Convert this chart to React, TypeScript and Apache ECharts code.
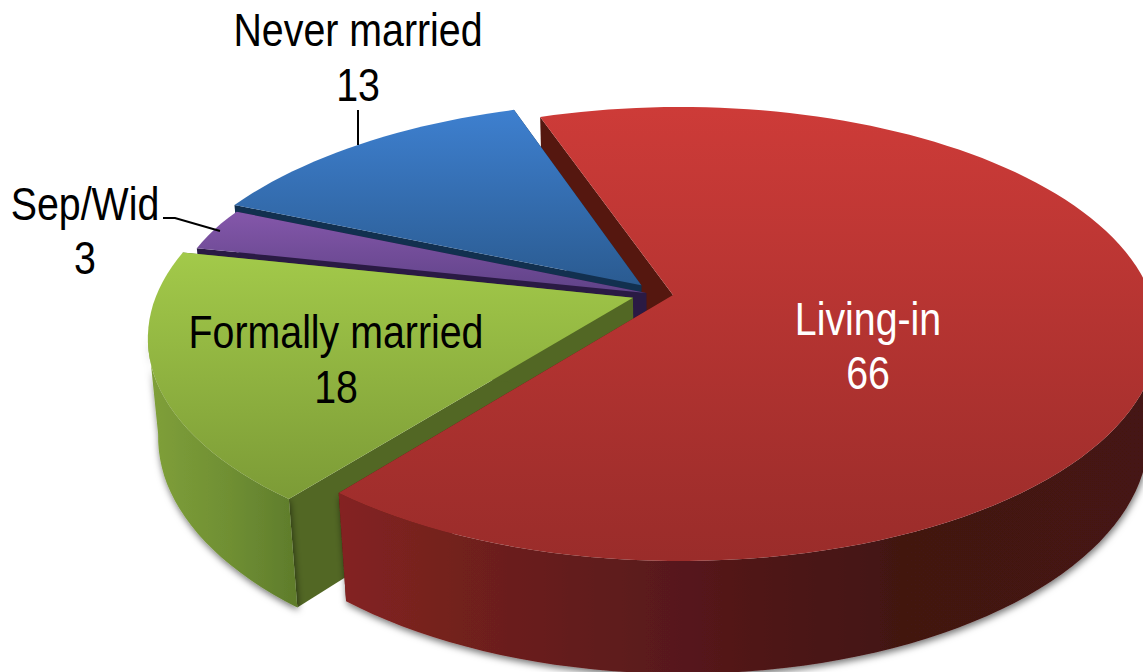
import React, { useEffect, useRef } from "react";
import * as echarts from "echarts";

const categories = ["Living-in", "Formally married", "Sep/Wid", "Never married"];
const values = [66, 18, 3, 13];

const START_ANGLE = -19.3;
const E = { cx: 680, cy: 334, rx: 478, ry: 227 };
const PIVOT = [-7 / 478, -39 / 227];
const VP = [680, 5500];
const DEPTH = 0.0189;
const FONT = "46px 'Liberation Sans', sans-serif";
const TEXT_SCALE_X = 0.855;

const offsets = [[0, 0], [-0.085, 0.012], [-0.057, -0.009], [-0.068, -0.045]];
const ranks = [40, 30, 20, 10];
const topStops = [
  [107, 561, "#cd3b38", "#9a2c2a"],
  [250, 505, "#a3ca4a", "#7b9a36"],
  [212, 295, "#8457aa", "#5f4287"],
  [108, 290, "#3e80d0", "#2a5a8f"],
];
const wallStops = [
  [[340, "#842321"], [500, "#6c1f1d"], [700, "#55181a"], [900, "#421211"], [1150, "#451412"]],
  [[148, "#80a03a"], [230, "#6f8f33"], [300, "#5e7b2b"]],
  [[200, "#2b1b45"], [240, "#2b1b45"]],
  [[234, "#12304f"], [520, "#12304f"]],
];
const sideColors = ["#55170f", "#526724", "#2a1a44", "#12304f"];
const textFill = ["#ffffff", "#000000", "#000000", "#000000"];
const labelPos = [[868, 319, 373], [336, 332, 387], [85, 204, 258], [358, 30, 85]];
const leaders = [null, null, [[163, 218], [175, 218], [220, 231]], [[358, 110], [358, 145]]];
// Hand-fit of the exploded slices' outline: [angle, radial extra, angular shift].
const outlineFit = [[210, 0.008, 0], [250, 0.024, 0.5], [270, 0.03, 1], [290, 0.034, 1], [340, 0, 0], [361, 0, 0]];

const pLen = Math.hypot(PIVOT[0], PIVOT[1]);
const dir = [PIVOT[0] / pLen, PIVOT[1] / pLen];

function weight(n: number[]) {
  return 1 + pLen * (n[0] * dir[0] + n[1] * dir[1]);
}
function topPoint(n: number[]) {
  const par1 = n[0] * dir[0] + n[1] * dir[1];
  const perp = [n[0] - par1 * dir[0], n[1] - par1 * dir[1]];
  const den = 1 + pLen * par1;
  const par = (par1 + pLen) / den;
  const k = Math.sqrt(1 - pLen * pLen) / den;
  return [
    E.cx + E.rx * (par * dir[0] + perp[0] * k),
    E.cy + E.ry * (par * dir[1] + perp[1] * k),
  ];
}
function bottomPoint(n: number[]) {
  const p = topPoint(n);
  const t = DEPTH / weight(n);
  return [p[0] + (VP[0] - p[0]) * t, p[1] + (VP[1] - p[1]) * t];
}
function fit(deg: number) {
  for (let k = 0; k < outlineFit.length - 1; k++) {
    const p = outlineFit[k];
    const q = outlineFit[k + 1];
    if (deg >= p[0] && deg <= q[0]) {
      const f = (deg - p[0]) / (q[0] - p[0]);
      return [p[1] + (q[1] - p[1]) * f, p[2] + (q[2] - p[2]) * f];
    }
  }
  return [0, 0];
}

function renderSlice(params: any, api: any) {
  const i = params.dataIndex;
  const before = values.slice(0, i).reduce((a, b) => a + b, 0);
  const total = values.reduce((a, b) => a + b, 0);
  const a0 = START_ANGLE + (before / total) * 360;
  const a1 = a0 + (api.value(0) / total) * 360;
  const c = offsets[i];
  const rim: number[][] = [];
  const steps = Math.max(4, Math.ceil((a1 - a0) / 2));
  for (let s = 0; s <= steps; s++) {
    const raw = a0 + ((a1 - a0) * s) / steps;
    const [extra, shift] = i === 0 ? [0, 0] : fit(raw);
    const a = ((raw - shift) * Math.PI) / 180;
    const r = 1 + extra;
    rim.push([c[0] + r * Math.sin(a), c[1] - r * Math.cos(a)]);
  }
  const rank = ranks[i];
  const top = [c, ...rim].map(topPoint);
  const first = rim[0];
  const last = rim[rim.length - 1];
  const quad = (m: number[]) => [topPoint(c), topPoint(m), bottomPoint(m), bottomPoint(c)];
  const ts = topStops[i];
  const ws = wallStops[i];
  const x0 = ws[0][0] as number;
  const x1 = ws[ws.length - 1][0] as number;
  const wallGrad = new echarts.graphic.LinearGradient(
    x0, 0, x1, 0,
    ws.map((s: any) => ({ offset: (s[0] - x0) / (x1 - x0), color: s[1] })),
    true
  );
  const topGrad = new echarts.graphic.LinearGradient(
    0, ts[0] as number, 0, ts[1] as number,
    [{ offset: 0, color: ts[2] as string }, { offset: 1, color: ts[3] as string }],
    true
  );
  const children: any[] = [
    { type: "polygon", z2: i === 0 ? 1 : rank, shape: { points: quad(first) }, style: { fill: sideColors[i] } },
    { type: "polygon", z2: rank, shape: { points: quad(last) }, style: { fill: sideColors[i] } },
  ];
  const front = rim.filter((n) => topPoint(n)[1] >= E.cy);
  if (front.length > 1) {
    children.push({
      type: "polygon",
      z2: rank + 1,
      shape: { points: [...front.map(topPoint), ...front.slice().reverse().map(bottomPoint)] },
      style: { fill: wallGrad, shadowBlur: 7, shadowColor: "rgba(0,0,0,0.55)", shadowOffsetY: 3, shadowOffsetX: 1 },
    });
  }
  children.push({ type: "polygon", z2: rank + 2, shape: { points: top }, style: { fill: topGrad } });
  const l = labelPos[i];
  [categories[i], String(api.value(0))].forEach((t, k) => {
    children.push({
      type: "text",
      z2: 60,
      x: l[0],
      y: l[k + 1],
      scaleX: TEXT_SCALE_X,
      style: { text: t, x: 0, y: 0, fill: textFill[i], font: FONT, align: "center", verticalAlign: "middle" },
    });
  });
  if (leaders[i]) {
    children.push({
      type: "polyline",
      z2: 60,
      shape: { points: leaders[i] },
      style: { stroke: "#000", lineWidth: 2, fill: "none" },
    });
  }
  return { type: "group", children };
}

export default function App() {
  const ref = useRef<HTMLDivElement>(null);
  useEffect(() => {
    document.body.style.margin = "0";
    const chart = echarts.init(ref.current!, null, { renderer: "svg" });
    chart.setOption({
      animation: false,
      backgroundColor: "#ffffff",
      series: [
        {
          type: "custom",
          coordinateSystem: "none",
          silent: true,
          renderItem: renderSlice,
          data: values.map((v, i) => ({ name: categories[i], value: [v] })),
        },
      ],
    });
    return () => chart.dispose();
  }, []);
  return <div ref={ref} style={{ width: 1143, height: 672, overflow: "hidden" }} />;
}
